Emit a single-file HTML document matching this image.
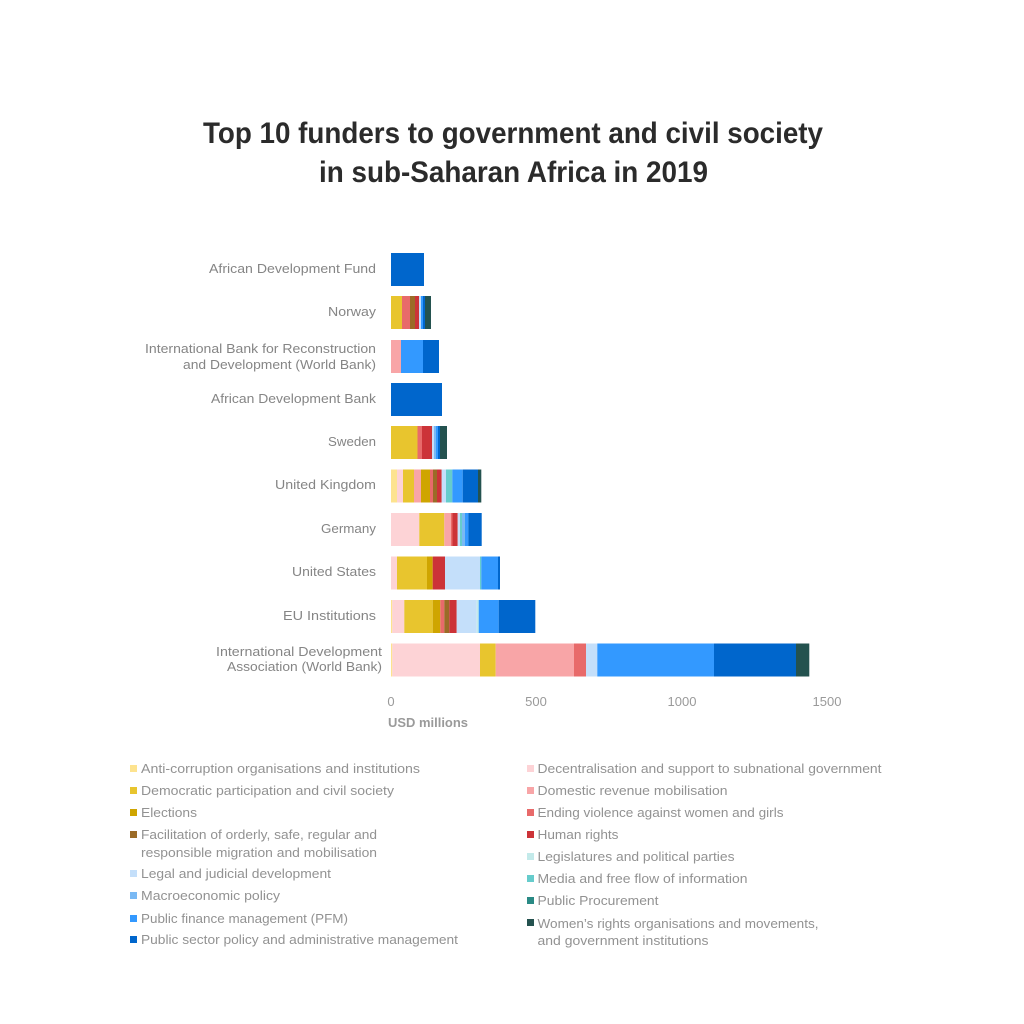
<!DOCTYPE html>
<html>
<head>
<meta charset="utf-8">
<style>
html,body{margin:0;padding:0;background:#fff;}
svg{display:block;}
text{font-family:"Liberation Sans",sans-serif;}
.t{font-weight:bold;fill:#2b2b2b;font-size:30px;}
.y{fill:#858585;font-size:13px;}
.k{fill:#9a9a9a;font-size:13px;}
.l{fill:#929292;font-size:13px;}
</style>
</head>
<body>
<svg width="1024" height="1024" viewBox="0 0 1024 1024" xmlns="http://www.w3.org/2000/svg">
<rect width="1024" height="1024" fill="#fff"/>
<!-- Title -->
<text class="t" x="203" y="143" textLength="620" lengthAdjust="spacingAndGlyphs">Top 10 funders to government and civil society</text>
<text class="t" x="319" y="182" textLength="389" lengthAdjust="spacingAndGlyphs">in sub-Saharan Africa in 2019</text>

<!-- Y labels -->
<g class="y" text-anchor="end">
<text x="376" y="273" textLength="167" lengthAdjust="spacingAndGlyphs">African Development Fund</text>
<text x="376" y="316" textLength="48" lengthAdjust="spacingAndGlyphs">Norway</text>
<text x="376" y="353" textLength="231" lengthAdjust="spacingAndGlyphs">International Bank for Reconstruction</text>
<text x="376" y="369" textLength="193" lengthAdjust="spacingAndGlyphs">and Development (World Bank)</text>
<text x="376" y="403" textLength="165" lengthAdjust="spacingAndGlyphs">African Development Bank</text>
<text x="376" y="446" textLength="48" lengthAdjust="spacingAndGlyphs">Sweden</text>
<text x="376" y="489" textLength="101" lengthAdjust="spacingAndGlyphs">United Kingdom</text>
<text x="376" y="533" textLength="55" lengthAdjust="spacingAndGlyphs">Germany</text>
<text x="376" y="576" textLength="84" lengthAdjust="spacingAndGlyphs">United States</text>
<text x="376" y="620" textLength="93" lengthAdjust="spacingAndGlyphs">EU Institutions</text>
<text x="382" y="656" textLength="166" lengthAdjust="spacingAndGlyphs">International Development</text>
<text x="382" y="671" textLength="155" lengthAdjust="spacingAndGlyphs">Association (World Bank)</text>
</g>

<!-- Bars -->
<g>
<!-- AfDF -->
<rect x="391" y="253" width="33" height="33" fill="#0066cc"/>
<!-- Norway -->
<rect x="391" y="296" width="11" height="33" fill="#e8c52e"/>
<rect x="402" y="296" width="8" height="33" fill="#e86a6a"/>
<rect x="410" y="296" width="5" height="33" fill="#9b6b27"/>
<rect x="415" y="296" width="4" height="33" fill="#cc3338"/>
<rect x="419" y="296" width="2" height="33" fill="#c4dffa"/>
<rect x="421" y="296" width="2" height="33" fill="#3399ff"/>
<rect x="423" y="296" width="2" height="33" fill="#0066cc"/>
<rect x="425" y="296" width="6" height="33" fill="#24524f"/>
<!-- IBRD -->
<rect x="391" y="340" width="10" height="33" fill="#f8a5a7"/>
<rect x="401" y="340" width="22" height="33" fill="#3399ff"/>
<rect x="423" y="340" width="16" height="33" fill="#0066cc"/>
<!-- AfDB -->
<rect x="391" y="383" width="51" height="33" fill="#0066cc"/>
<!-- Sweden -->
<rect x="391" y="426" width="26.5" height="33" fill="#e8c52e"/>
<rect x="417.5" y="426" width="4.5" height="33" fill="#e86a6a"/>
<rect x="422" y="426" width="10" height="33" fill="#cc3338"/>
<rect x="432" y="426" width="2" height="33" fill="#c4dffa"/>
<rect x="434" y="426" width="2" height="33" fill="#7ab9f4"/>
<rect x="436" y="426" width="2" height="33" fill="#3399ff"/>
<rect x="438" y="426" width="2" height="33" fill="#0066cc"/>
<rect x="440" y="426" width="7" height="33" fill="#24524f"/>
<!-- UK -->
<rect x="391" y="469.5" width="6" height="33" fill="#fde38f"/>
<rect x="397" y="469.5" width="6" height="33" fill="#fdd3d6"/>
<rect x="403" y="469.5" width="11" height="33" fill="#e8c52e"/>
<rect x="414" y="469.5" width="7" height="33" fill="#f8a5a7"/>
<rect x="421" y="469.5" width="9" height="33" fill="#cfa500"/>
<rect x="430" y="469.5" width="3" height="33" fill="#e86a6a"/>
<rect x="433" y="469.5" width="4" height="33" fill="#9b6b27"/>
<rect x="437" y="469.5" width="4.7" height="33" fill="#cc3338"/>
<rect x="441.7" y="469.5" width="4.3" height="33" fill="#c4dffa"/>
<rect x="446" y="469.5" width="6.3" height="33" fill="#66cccc"/>
<rect x="452.3" y="469.5" width="10.4" height="33" fill="#3399ff"/>
<rect x="462.7" y="469.5" width="15.3" height="33" fill="#0066cc"/>
<rect x="478" y="469.5" width="3.3" height="33" fill="#24524f"/>
<!-- Germany -->
<rect x="391" y="513" width="28.3" height="33" fill="#fdd3d6"/>
<rect x="419.3" y="513" width="25" height="33" fill="#e8c52e"/>
<rect x="444.3" y="513" width="6.7" height="33" fill="#f8a5a7"/>
<rect x="451" y="513" width="1.5" height="33" fill="#e86a6a"/>
<rect x="452.5" y="513" width="5.2" height="33" fill="#cc3338"/>
<rect x="457.7" y="513" width="2.3" height="33" fill="#c4dffa"/>
<rect x="460" y="513" width="2" height="33" fill="#66cccc"/>
<rect x="462" y="513" width="3" height="33" fill="#7ab9f4"/>
<rect x="465" y="513" width="3.3" height="33" fill="#3399ff"/>
<rect x="468.3" y="513" width="13.4" height="33" fill="#0066cc"/>
<!-- US -->
<rect x="391" y="556.5" width="6" height="33" fill="#fdd3d6"/>
<rect x="397" y="556.5" width="30" height="33" fill="#e8c52e"/>
<rect x="427" y="556.5" width="5.7" height="33" fill="#cfa500"/>
<rect x="432.7" y="556.5" width="12.3" height="33" fill="#cc3338"/>
<rect x="445" y="556.5" width="35" height="33" fill="#c4dffa"/>
<rect x="480" y="556.5" width="1.3" height="33" fill="#66cccc"/>
<rect x="481.3" y="556.5" width="16.7" height="33" fill="#3399ff"/>
<rect x="498" y="556.5" width="2" height="33" fill="#0066cc"/>
<!-- EU -->
<rect x="391" y="600" width="1.3" height="33" fill="#fde38f"/>
<rect x="392.3" y="600" width="12" height="33" fill="#fdd3d6"/>
<rect x="404.3" y="600" width="28.4" height="33" fill="#e8c52e"/>
<rect x="432.7" y="600" width="7.6" height="33" fill="#cfa500"/>
<rect x="440.3" y="600" width="4" height="33" fill="#e86a6a"/>
<rect x="444.3" y="600" width="5" height="33" fill="#9b6b27"/>
<rect x="449.3" y="600" width="7.4" height="33" fill="#cc3338"/>
<rect x="456.7" y="600" width="20" height="33" fill="#c4dffa"/>
<rect x="476.7" y="600" width="2" height="33" fill="#c3eaea"/>
<rect x="478.7" y="600" width="20" height="33" fill="#3399ff"/>
<rect x="498.7" y="600" width="36.6" height="33" fill="#0066cc"/>
<!-- IDA -->
<rect x="391" y="643.5" width="1.3" height="33" fill="#fde38f"/>
<rect x="392.3" y="643.5" width="87.7" height="33" fill="#fdd3d6"/>
<rect x="480" y="643.5" width="15.7" height="33" fill="#e8c52e"/>
<rect x="495.7" y="643.5" width="78.3" height="33" fill="#f8a5a7"/>
<rect x="574" y="643.5" width="12" height="33" fill="#e86a6a"/>
<rect x="586" y="643.5" width="11.3" height="33" fill="#c4dffa"/>
<rect x="597.3" y="643.5" width="116.7" height="33" fill="#3399ff"/>
<rect x="714" y="643.5" width="82" height="33" fill="#0066cc"/>
<rect x="796" y="643.5" width="13.3" height="33" fill="#24524f"/>
</g>

<!-- X ticks -->
<g class="k" text-anchor="middle">
<text x="391" y="706">0</text>
<text x="536" y="706">500</text>
<text x="682" y="706">1000</text>
<text x="827" y="706">1500</text>
</g>
<text x="388" y="727" fill="#9a9a9a" font-size="13" font-weight="bold" textLength="80" lengthAdjust="spacingAndGlyphs">USD millions</text>

<!-- Legend left -->
<g>
<rect x="130" y="765" width="7" height="7" fill="#fde38f"/>
<rect x="130" y="787" width="7" height="7" fill="#e8c52e"/>
<rect x="130" y="809" width="7" height="7" fill="#cfa500"/>
<rect x="130" y="831" width="7" height="7" fill="#9b6b27"/>
<rect x="130" y="870" width="7" height="7" fill="#c4dffa"/>
<rect x="130" y="892" width="7" height="7" fill="#7ab9f4"/>
<rect x="130" y="915" width="7" height="7" fill="#3399ff"/>
<rect x="130" y="936" width="7" height="7" fill="#0066cc"/>
</g>
<g class="l">
<text x="141" y="773" textLength="279" lengthAdjust="spacingAndGlyphs">Anti-corruption organisations and institutions</text>
<text x="141" y="795" textLength="253" lengthAdjust="spacingAndGlyphs">Democratic participation and civil society</text>
<text x="141" y="817" textLength="56" lengthAdjust="spacingAndGlyphs">Elections</text>
<text x="141" y="839" textLength="236" lengthAdjust="spacingAndGlyphs">Facilitation of orderly, safe, regular and</text>
<text x="141" y="857" textLength="236" lengthAdjust="spacingAndGlyphs">responsible migration and mobilisation</text>
<text x="141" y="878" textLength="190" lengthAdjust="spacingAndGlyphs">Legal and judicial development</text>
<text x="141" y="900" textLength="139" lengthAdjust="spacingAndGlyphs">Macroeconomic policy</text>
<text x="141" y="923" textLength="207" lengthAdjust="spacingAndGlyphs">Public finance management (PFM)</text>
<text x="141" y="944" textLength="317" lengthAdjust="spacingAndGlyphs">Public sector policy and administrative management</text>
</g>

<!-- Legend right -->
<g>
<rect x="527" y="765" width="7" height="7" fill="#fdd3d6"/>
<rect x="527" y="787" width="7" height="7" fill="#f8a5a7"/>
<rect x="527" y="809" width="7" height="7" fill="#e86a6a"/>
<rect x="527" y="831" width="7" height="7" fill="#cc3338"/>
<rect x="527" y="853" width="7" height="7" fill="#c3eaea"/>
<rect x="527" y="875" width="7" height="7" fill="#66cccc"/>
<rect x="527" y="897" width="7" height="7" fill="#2a8a85"/>
<rect x="527" y="919" width="7" height="7" fill="#24524f"/>
</g>
<g class="l">
<text x="537.5" y="773" textLength="344" lengthAdjust="spacingAndGlyphs">Decentralisation and support to subnational government</text>
<text x="537.5" y="795" textLength="190" lengthAdjust="spacingAndGlyphs">Domestic revenue mobilisation</text>
<text x="537.5" y="817" textLength="246" lengthAdjust="spacingAndGlyphs">Ending violence against women and girls</text>
<text x="537.5" y="839" textLength="81" lengthAdjust="spacingAndGlyphs">Human rights</text>
<text x="537.5" y="861" textLength="197" lengthAdjust="spacingAndGlyphs">Legislatures and political parties</text>
<text x="537.5" y="883" textLength="210" lengthAdjust="spacingAndGlyphs">Media and free flow of information</text>
<text x="537.5" y="905" textLength="121" lengthAdjust="spacingAndGlyphs">Public Procurement</text>
<text x="537.5" y="928" textLength="281" lengthAdjust="spacingAndGlyphs">Women’s rights organisations and movements,</text>
<text x="537.5" y="945" textLength="171" lengthAdjust="spacingAndGlyphs">and government institutions</text>
</g>
</svg>
</body>
</html>
